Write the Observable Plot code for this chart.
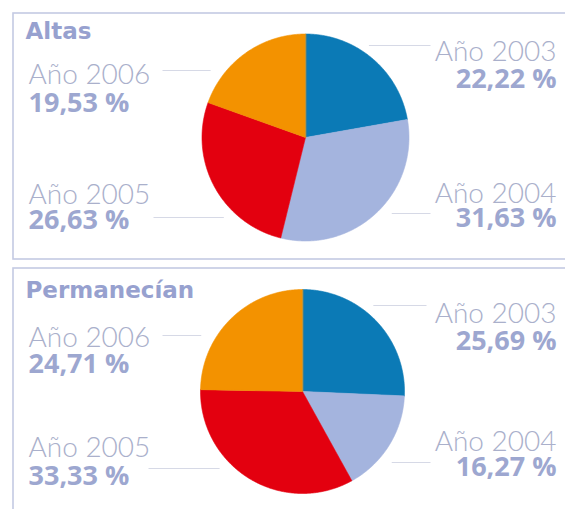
<!DOCTYPE html>
<html><head><meta charset="utf-8">
<script src="https://cdn.jsdelivr.net/npm/d3@7"></script>
<script src="https://cdn.jsdelivr.net/npm/@observablehq/plot@0.6"></script>
<style>html,body{margin:0;padding:0;background:#fff}</style>
</head><body><div id="chart"></div>
<script>
// ---- data ----
const panels = ["Altas", "Permanecían"];
const years = ["Año 2003", "Año 2004", "Año 2005", "Año 2006"];
const altas = [22.22, 31.63, 26.63, 19.53];
const permanecian = [25.69, 16.27, 33.33, 24.71];
const seriesByPanel = [altas, permanecian];

// ---- style / layout ----
const colors = ["#0b7ab6", "#a4b4de", "#e3000f", "#f39200"];
const W = 565, H = 509;
const leftX = 28, rightX = 556;
const layout = [
  {box: [13, 13, 575, 259], title: [25, 38], cx: 305, cy: 137, r: 103.5,
   slots: [
     {yl: 60, yv: 87, ly: 45, ox: 430},
     {yl: 202, yv: 226, ly: 213, ox: 430},
     {yl: 203, yv: 228, ly: 217, ox: 153},
     {yl: 83, yv: 111, ly: 70, ox: 162}]},
  {box: [13, 268, 575, 520], title: [25, 297], cx: 302, cy: 391, r: 102,
   slots: [
     {yl: 322, yv: 349, ly: 305, ox: 426},
     {yl: 450, yv: 475, ly: 462, ox: 430},
     {yl: 456, yv: 484, ly: 468, ox: 148},
     {yl: 346, yv: 372, ly: 335, ox: 162}]}
];
const fmt = v => v.toFixed(2).replace(".", ",") + " %";

// ---- derived tables ----
const slices = [], labels = [], links = [], boxes = [], titles = [];
panels.forEach((p, pi) => {
  const L = layout[pi];
  boxes.push({panel: p, x1: L.box[0], y1: L.box[1], x2: L.box[2], y2: L.box[3]});
  titles.push({panel: p, x: L.title[0], y: L.title[1]});
  const arcs = d3.pie().sort(null).value(d => d)(seriesByPanel[pi]);
  arcs.forEach((a, i) => {
    const key = p + "-" + i;
    slices.push({key, year: years[i], x: L.cx, y: L.cy});
    const n = Math.max(2, Math.ceil((a.endAngle - a.startAngle) / (Math.PI / 360)));
    for (let k = 0; k <= n; k++) {
      const t = a.startAngle + (a.endAngle - a.startAngle) * k / n;
      slices.push({key, year: years[i], x: L.cx + L.r * Math.sin(t), y: L.cy - L.r * Math.cos(t)});
    }
    const s = L.slots[i];
    const right = i < 2;
    labels.push({panel: p, year: years[i], value: fmt(a.value), right,
                 x: right ? rightX : leftX, yl: s.yl, yv: s.yv});
    const dy = s.ly - L.cy;
    const edge = Math.sqrt(Math.max(0, L.r * L.r - dy * dy)) + 16;
    links.push({x1: right ? L.cx + edge : L.cx - edge, x2: s.ox, y: s.ly});
  });
});

const lightFont = "Lato, Roboto, sans-serif";
const boldFont = "'Open Sans', Lato, sans-serif";

const chart = Plot.plot({
  width: W, height: H, margin: 0,
  x: {domain: [0, W], range: [0, W], axis: null},
  y: {domain: [0, H], range: [0, H], axis: null},
  color: {domain: years, range: colors},
  style: {background: "#fff"},
  marks: [
    Plot.rect(boxes, {x1: "x1", y1: "y1", x2: "x2", y2: "y2", fill: "none", stroke: "#c4cae3", strokeWidth: 1.6}),
    Plot.link(links, {x1: "x1", x2: "x2", y1: "y", y2: "y", stroke: "#d6d9e6", strokeWidth: 1}),
    Plot.line(slices, {x: "x", y: "y", z: "key", fill: "year", stroke: "year", strokeWidth: 0.6, curve: "linear-closed"}),
    Plot.text(titles, {x: "x", y: "y", text: "panel", textAnchor: "start", lineAnchor: "bottom",
      fontFamily: "'DejaVu Sans', sans-serif", fontWeight: "bold", fontSize: 23, fill: "#97a1cf"}),
    Plot.text(labels.filter(d => d.right), {x: "x", y: "yl", text: "year", textAnchor: "end", lineAnchor: "bottom",
      fontFamily: lightFont, fontWeight: 300, fontSize: 28, fill: "#aab0cb"}),
    Plot.text(labels.filter(d => !d.right), {x: "x", y: "yl", text: "year", textAnchor: "start", lineAnchor: "bottom",
      fontFamily: lightFont, fontWeight: 300, fontSize: 28, fill: "#aab0cb"}),
    Plot.text(labels.filter(d => d.right), {x: "x", y: "yv", text: "value", textAnchor: "end", lineAnchor: "bottom",
      fontFamily: boldFont, fontWeight: "bold", fontSize: 27, fill: "#9da7d0"}),
    Plot.text(labels.filter(d => !d.right), {x: "x", y: "yv", text: "value", textAnchor: "start", lineAnchor: "bottom",
      fontFamily: boldFont, fontWeight: "bold", fontSize: 27, fill: "#9da7d0"})
  ]
});
document.getElementById("chart").append(chart);
</script>
</body></html>
